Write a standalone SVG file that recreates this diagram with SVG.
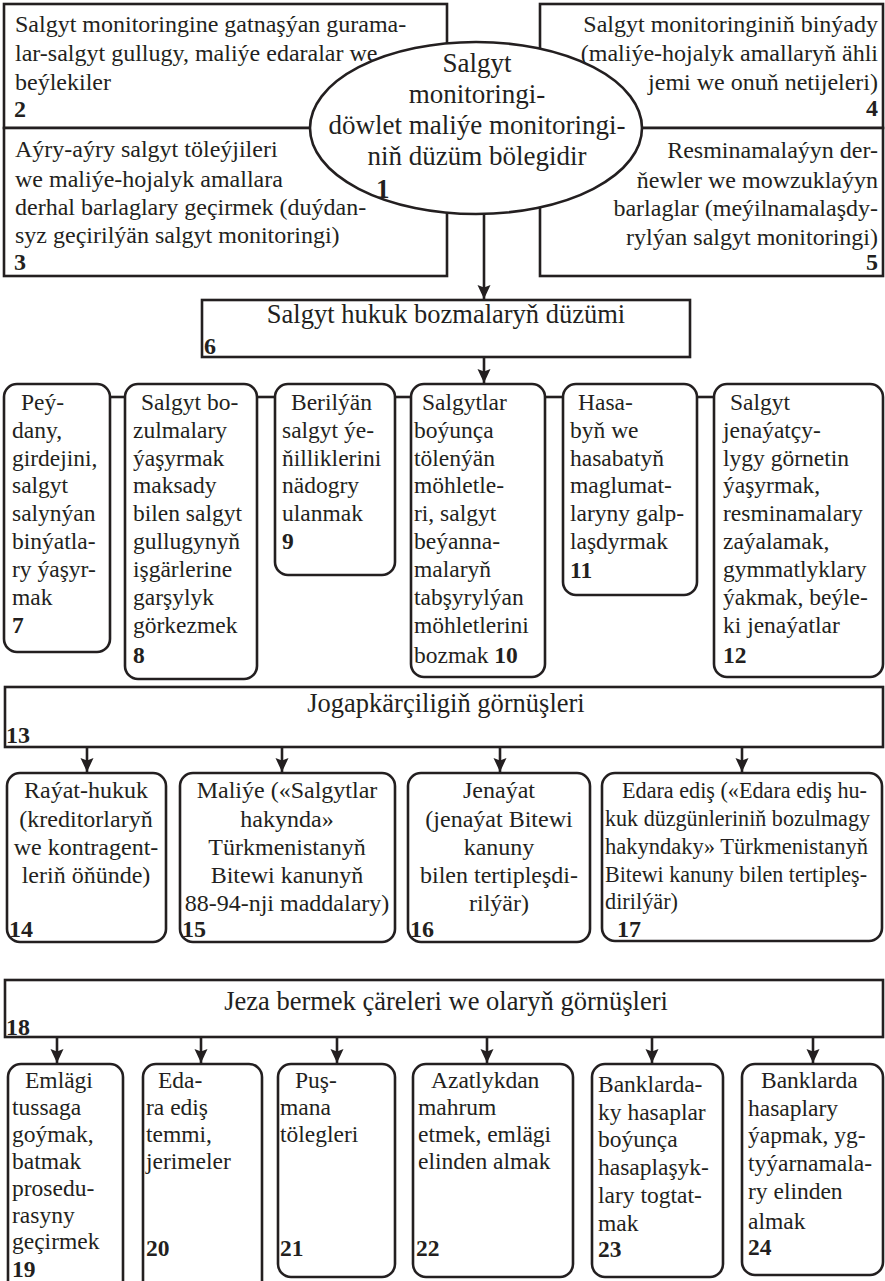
<svg xmlns="http://www.w3.org/2000/svg" width="885" height="1281" viewBox="0 0 885 1281">
<style>
.b{fill:#fff;stroke:#231f20;stroke-width:2.6}
.t{font-family:"Liberation Serif","Times New Roman",serif;font-size:24px;fill:#231f20}
.e{font-size:27px;text-anchor:middle}
.h{font-size:26.5px;text-anchor:middle}
.s{font-size:23.5px}
.k{font-size:22.5px}
.n{font-weight:bold}
.c{text-anchor:middle}
.r{text-anchor:end}
.cn{stroke:#231f20;stroke-width:2.6;fill:none}
</style>
<defs>
<marker id="ah" markerWidth="14" markerHeight="14" refX="14" refY="6.5" orient="auto" markerUnits="userSpaceOnUse">
<path d="M0,0 L14,6.5 L0,13 L2.5,6.5 z" fill="#231f20"/>
</marker>
</defs>
<rect width="885" height="1281" fill="#fff"/>

<g id="n2">
<rect class="b" x="4" y="4" width="443" height="124"/>
<text class="t" x="15" y="32">Salgyt monitoringine gatnaşýan gurama-</text>
<text class="t" x="15" y="61">lar-salgyt gullugy, maliýe edaralar we</text>
<text class="t" x="15" y="90">beýlekiler</text>
<text class="t n" x="14" y="117">2</text>
</g>
<g id="n3">
<rect class="b" x="4" y="128" width="443" height="148"/>
<text class="t" x="15" y="157">Aýry-aýry salgyt töleýjileri</text>
<text class="t" x="15" y="187">we maliýe-hojalyk amallara</text>
<text class="t" x="15" y="215">derhal barlaglary geçirmek (duýdan-</text>
<text class="t" x="15" y="243">syz geçirilýän salgyt monitoringi)</text>
<text class="t n" x="14" y="270">3</text>
</g>
<g id="n4">
<rect class="b" x="540" y="4" width="343" height="124"/>
<text class="t r" x="878" y="32">Salgyt monitoringiniň binýady</text>
<text class="t r" x="878" y="61">(maliýe-hojalyk amallaryň ähli</text>
<text class="t r" x="878" y="90">jemi we onuň netijeleri)</text>
<text class="t n r" x="878" y="116">4</text>
</g>
<g id="n5">
<rect class="b" x="540" y="128" width="343" height="148"/>
<text class="t r" x="878" y="158">Resminamalaýyn der-</text>
<text class="t r" x="878" y="188">ňewler we mowzuklaýyn</text>
<text class="t r" x="878" y="216">barlaglar (meýilnamalaşdy-</text>
<text class="t r" x="878" y="245">rylýan salgyt monitoringi)</text>
<text class="t n r" x="878" y="270">5</text>
</g>
<g id="n1">
<ellipse class="b" cx="476" cy="128" rx="166" ry="86"/>
<text class="t e" x="477" y="72">Salgyt</text>
<text class="t e" x="477" y="103">monitoringi-</text>
<text class="t e" x="477" y="134">döwlet maliýe monitoringi-</text>
<text class="t e" x="477" y="165">niň düzüm bölegidir</text>
<text class="t n" x="376" y="198" style="font-size:27px">1</text>
</g>

<g id="n6">
<rect class="b" x="202" y="300" width="488" height="57"/>
<text class="t h" x="446" y="323">Salgyt hukuk bozmalaryň düzümi</text>
<text class="t n" x="204" y="354">6</text>
</g>

<g id="n7">
<rect class="b" x="4" y="384" width="106" height="268" rx="13"/>
<text class="t s" x="21" y="410">Peý-</text>
<text class="t s" x="12" y="438">dany,</text>
<text class="t s" x="12" y="466">girdejini,</text>
<text class="t s" x="12" y="493">salgyt</text>
<text class="t s" x="12" y="521">salynýan</text>
<text class="t s" x="12" y="549">binýatla-</text>
<text class="t s" x="12" y="577">ry ýaşyr-</text>
<text class="t s" x="12" y="605">mak</text>
<text class="t s n" x="12" y="633">7</text>
</g>
<g id="n8">
<rect class="b" x="125" y="384" width="132" height="295" rx="13"/>
<text class="t s" x="141" y="410">Salgyt bo-</text>
<text class="t s" x="133" y="438">zulmalary</text>
<text class="t s" x="133" y="466">ýaşyrmak</text>
<text class="t s" x="133" y="493">maksady</text>
<text class="t s" x="133" y="521">bilen salgyt</text>
<text class="t s" x="133" y="549">gullugynyň</text>
<text class="t s" x="133" y="577">işgärlerine</text>
<text class="t s" x="133" y="605">garşylyk</text>
<text class="t s" x="133" y="633">görkezmek</text>
<text class="t s n" x="133" y="663">8</text>
</g>
<g id="n9">
<rect class="b" x="275" y="384" width="120" height="191" rx="13"/>
<text class="t s" x="291" y="410">Berilýän</text>
<text class="t s" x="282" y="438">salgyt ýe-</text>
<text class="t s" x="282" y="466">ňilliklerini</text>
<text class="t s" x="282" y="493">nädogry</text>
<text class="t s" x="282" y="521">ulanmak</text>
<text class="t s n" x="282" y="549">9</text>
</g>
<g id="n10">
<rect class="b" x="411" y="384" width="134" height="293" rx="13"/>
<text class="t s" x="422" y="410">Salgytlar</text>
<text class="t s" x="414" y="438">boýunça</text>
<text class="t s" x="414" y="466">tölenýän</text>
<text class="t s" x="414" y="493">möhletle-</text>
<text class="t s" x="414" y="521">ri, salgyt</text>
<text class="t s" x="414" y="549">beýanna-</text>
<text class="t s" x="414" y="577">malaryň</text>
<text class="t s" x="414" y="605">tabşyrylýan</text>
<text class="t s" x="414" y="633">möhletlerini</text>
<text class="t s" x="414" y="663">bozmak <tspan class="n">10</tspan></text>
</g>
<g id="n11">
<rect class="b" x="563" y="384" width="134" height="211" rx="13"/>
<text class="t s" x="578" y="410">Hasa-</text>
<text class="t s" x="570" y="438">byň we</text>
<text class="t s" x="570" y="466">hasabatyň</text>
<text class="t s" x="570" y="493">maglumat-</text>
<text class="t s" x="570" y="521">laryny galp-</text>
<text class="t s" x="570" y="549">laşdyrmak</text>
<text class="t s n" x="570" y="578">11</text>
</g>
<g id="n12">
<rect class="b" x="714" y="384" width="169" height="293" rx="13"/>
<text class="t s" x="730" y="410">Salgyt</text>
<text class="t s" x="723" y="438">jenaýatçy-</text>
<text class="t s" x="723" y="466">lygy görnetin</text>
<text class="t s" x="723" y="493">ýaşyrmak,</text>
<text class="t s" x="723" y="521">resminamalary</text>
<text class="t s" x="723" y="549">zaýalamak,</text>
<text class="t s" x="723" y="577">gymmatlyklary</text>
<text class="t s" x="723" y="605">ýakmak, beýle-</text>
<text class="t s" x="723" y="633">ki jenaýatlar</text>
<text class="t s n" x="723" y="663">12</text>
</g>

<g id="n13">
<rect class="b" x="5" y="687" width="878" height="60"/>
<text class="t h" x="446" y="712">Jogapkärçiligiň görnüşleri</text>
<text class="t n" x="6" y="743">13</text>
</g>

<g id="n14">
<rect class="b" x="7" y="773" width="159" height="169" rx="13"/>
<text class="t c" x="86" y="798">Raýat-hukuk</text>
<text class="t c" x="86" y="827">(kreditorlaryň</text>
<text class="t c" x="86" y="855">we kontragent-</text>
<text class="t c" x="86" y="883">leriň öňünde)</text>
<text class="t n" x="9" y="937">14</text>
</g>
<g id="n15">
<rect class="b" x="180" y="773" width="215" height="169" rx="13"/>
<text class="t c" x="287" y="798">Maliýe («Salgytlar</text>
<text class="t c" x="287" y="827">hakynda»</text>
<text class="t c" x="287" y="855">Türkmenistanyň</text>
<text class="t c" x="287" y="883">Bitewi kanunyň</text>
<text class="t c" x="287" y="911">88-94-nji maddalary)</text>
<text class="t n" x="182" y="937">15</text>
</g>
<g id="n16">
<rect class="b" x="408" y="773" width="182" height="169" rx="13"/>
<text class="t c" x="499" y="798">Jenaýat</text>
<text class="t c" x="499" y="827">(jenaýat Bitewi</text>
<text class="t c" x="499" y="855">kanuny</text>
<text class="t c" x="499" y="883">bilen tertipleşdi-</text>
<text class="t c" x="499" y="911">rilýär)</text>
<text class="t n" x="410" y="937">16</text>
</g>
<g id="n17">
<rect class="b" x="602" y="773" width="280" height="168" rx="13"/>
<text class="t k" x="622" y="798" textLength="245" lengthAdjust="spacingAndGlyphs">Edara ediş («Edara ediş hu-</text>
<text class="t k" x="605" y="826" textLength="265" lengthAdjust="spacingAndGlyphs">kuk düzgünleriniň bozulmagy</text>
<text class="t k" x="605" y="854" textLength="263" lengthAdjust="spacingAndGlyphs">hakyndaky» Türkmenistanyň</text>
<text class="t k" x="605" y="882" textLength="262" lengthAdjust="spacingAndGlyphs">Bitewi kanuny bilen tertipleş-</text>
<text class="t k" x="605" y="909" textLength="73" lengthAdjust="spacingAndGlyphs">dirilýär)</text>
<text class="t n" x="617" y="937">17</text>
</g>

<g id="n18">
<rect class="b" x="5" y="980" width="878" height="57"/>
<text class="t h" x="446" y="1010">Jeza bermek çäreleri we olaryň görnüşleri</text>
<text class="t n" x="6" y="1035">18</text>
</g>

<g id="n19">
<rect class="b" x="8" y="1064" width="115" height="230" rx="13"/>
<text class="t s" x="25" y="1088">Emlägi</text>
<text class="t s" x="12" y="1115">tussaga</text>
<text class="t s" x="12" y="1142">goýmak,</text>
<text class="t s" x="12" y="1169">batmak</text>
<text class="t s" x="12" y="1196">prosedu-</text>
<text class="t s" x="12" y="1223">rasyny</text>
<text class="t s" x="12" y="1249">geçirmek</text>
<text class="t s n" x="12" y="1277">19</text>
</g>
<g id="n20">
<rect class="b" x="143" y="1064" width="119" height="230" rx="13"/>
<text class="t s" x="158" y="1088">Eda-</text>
<text class="t s" x="146" y="1115">ra ediş</text>
<text class="t s" x="146" y="1142">temmi,</text>
<text class="t s" x="146" y="1169">jerimeler</text>
<text class="t s n" x="146" y="1256">20</text>
</g>
<g id="n21">
<rect class="b" x="278" y="1064" width="117" height="213" rx="13"/>
<text class="t s" x="295" y="1088">Puş-</text>
<text class="t s" x="280" y="1115">mana</text>
<text class="t s" x="280" y="1142">tölegleri</text>
<text class="t s n" x="280" y="1256">21</text>
</g>
<g id="n22">
<rect class="b" x="413" y="1064" width="160" height="213" rx="13"/>
<text class="t s" x="431" y="1088">Azatlykdan</text>
<text class="t s" x="418" y="1115">mahrum</text>
<text class="t s" x="418" y="1142">etmek, emlägi</text>
<text class="t s" x="418" y="1169">elinden almak</text>
<text class="t s n" x="416" y="1256">22</text>
</g>
<g id="n23">
<rect class="b" x="592" y="1064" width="131" height="213" rx="13"/>
<text class="t s" x="598" y="1092">Banklarda-</text>
<text class="t s" x="598" y="1120">ky hasaplar</text>
<text class="t s" x="598" y="1147">boýunça</text>
<text class="t s" x="598" y="1175">hasaplaşyk-</text>
<text class="t s" x="598" y="1203">lary togtat-</text>
<text class="t s" x="598" y="1231">mak</text>
<text class="t s n" x="598" y="1257">23</text>
</g>
<g id="n24">
<rect class="b" x="742" y="1064" width="141" height="211" rx="13"/>
<text class="t s" x="761" y="1088">Banklarda</text>
<text class="t s" x="748" y="1116">hasaplary</text>
<text class="t s" x="748" y="1143">ýapmak, yg-</text>
<text class="t s" x="748" y="1171">tyýarnamala-</text>
<text class="t s" x="748" y="1199">ry elinden</text>
<text class="t s" x="748" y="1229">almak</text>
<text class="t s n" x="748" y="1255">24</text>
</g>

<g id="connectors">
<line class="cn" x1="484" y1="214" x2="484" y2="299" marker-end="url(#ah)"/>
<line class="cn" x1="484" y1="357" x2="484" y2="383" marker-end="url(#ah)"/>
<line class="cn" x1="110" y1="397" x2="125" y2="397"/>
<line class="cn" x1="257" y1="397" x2="275" y2="397"/>
<line class="cn" x1="395" y1="397" x2="411" y2="397"/>
<line class="cn" x1="545" y1="397" x2="563" y2="397"/>
<line class="cn" x1="697" y1="397" x2="714" y2="397"/>
<line class="cn" x1="87" y1="747" x2="87" y2="772" marker-end="url(#ah)"/>
<line class="cn" x1="282" y1="747" x2="282" y2="772" marker-end="url(#ah)"/>
<line class="cn" x1="500" y1="747" x2="500" y2="772" marker-end="url(#ah)"/>
<line class="cn" x1="742" y1="747" x2="742" y2="772" marker-end="url(#ah)"/>
<line class="cn" x1="57" y1="1037" x2="57" y2="1063" marker-end="url(#ah)"/>
<line class="cn" x1="201" y1="1037" x2="201" y2="1063" marker-end="url(#ah)"/>
<line class="cn" x1="337" y1="1037" x2="337" y2="1063" marker-end="url(#ah)"/>
<line class="cn" x1="487" y1="1037" x2="487" y2="1063" marker-end="url(#ah)"/>
<line class="cn" x1="652" y1="1037" x2="652" y2="1063" marker-end="url(#ah)"/>
<line class="cn" x1="813" y1="1037" x2="813" y2="1063" marker-end="url(#ah)"/>
</g>
</svg>
